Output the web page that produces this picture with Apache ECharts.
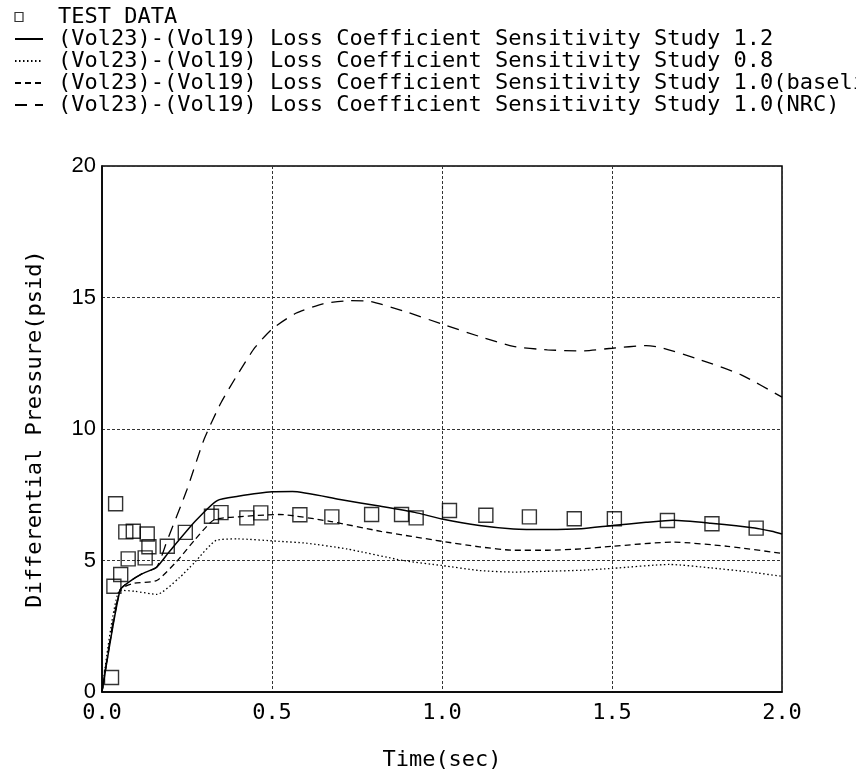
<!DOCTYPE html>
<html>
<head>
<meta charset="utf-8">
<script src="https://cdn.jsdelivr.net/npm/echarts@6/dist/echarts.min.js"></script>
<style>
  html, body { margin: 0; padding: 0; background: #fff; }
  #chart { width: 856px; height: 776px; }
</style>
</head>
<body>
<div id="chart"></div>
<script>
// Series names
const nameTest = 'TEST DATA';
const name12 = '(Vol23)-(Vol19) Loss Coefficient Sensitivity Study 1.2';
const name08 = '(Vol23)-(Vol19) Loss Coefficient Sensitivity Study 0.8';
const nameBase = '(Vol23)-(Vol19) Loss Coefficient Sensitivity Study 1.0(baseline)';
const nameNrc = '(Vol23)-(Vol19) Loss Coefficient Sensitivity Study 1.0(NRC)';

// Measured differential pressure, [time (sec), dp (psid)]
const testPoints = [
  [0.028, 0.55], [0.035, 4.02], [0.040, 7.16], [0.055, 4.47], [0.070, 6.09],
  [0.077, 5.06], [0.092, 6.11], [0.127, 5.10], [0.133, 6.01], [0.138, 5.52],
  [0.192, 5.54], [0.245, 6.07], [0.322, 6.68], [0.350, 6.82], [0.426, 6.62],
  [0.467, 6.81], [0.582, 6.74], [0.676, 6.66], [0.793, 6.75], [0.881, 6.75],
  [0.924, 6.62], [1.022, 6.90], [1.129, 6.72], [1.257, 6.66], [1.389, 6.59],
  [1.507, 6.59], [1.663, 6.52], [1.794, 6.40], [1.924, 6.23]
];

// Loss coefficient x1.2
const study12 = [
  [0, 0], [0.053, 3.87], [0.082, 4.21], [0.117, 4.49], [0.161, 4.75],
  [0.195, 5.29], [0.274, 6.49], [0.339, 7.28], [0.40, 7.44], [0.50, 7.61],
  [0.56, 7.62], [0.70, 7.32], [0.82, 7.06], [0.92, 6.83], [1.00, 6.58],
  [1.11, 6.33], [1.21, 6.20], [1.31, 6.18], [1.41, 6.21], [1.50, 6.33],
  [1.60, 6.45], [1.68, 6.53], [1.79, 6.42], [1.92, 6.24], [1.97, 6.11],
  [2.00, 6.01]
];

// Loss coefficient x0.8
const study08 = [
  [0, 0], [0.053, 3.87], [0.097, 3.83], [0.161, 3.71], [0.227, 4.34],
  [0.271, 4.91], [0.337, 5.77], [0.40, 5.82], [0.52, 5.73], [0.60, 5.66],
  [0.72, 5.44], [0.886, 5.00], [1.00, 4.81], [1.11, 4.62], [1.21, 4.56],
  [1.31, 4.59], [1.41, 4.63], [1.50, 4.70], [1.67, 4.85], [1.79, 4.72],
  [1.90, 4.57], [2.00, 4.40]
];

// Loss coefficient x1.0 (baseline)
const studyBase = [
  [0, 0], [0.053, 3.87], [0.092, 4.13], [0.161, 4.24], [0.22, 4.97],
  [0.274, 5.80], [0.33, 6.55], [0.40, 6.66], [0.52, 6.75], [0.67, 6.49],
  [0.82, 6.11], [1.00, 5.73], [1.11, 5.52], [1.21, 5.39], [1.31, 5.39],
  [1.41, 5.44], [1.50, 5.54], [1.68, 5.70], [1.84, 5.54], [2.00, 5.27]
];

// Loss coefficient x1.0 (NRC)
const studyNrc = [
  [0, 0], [0.053, 3.87], [0.117, 4.49], [0.161, 4.75], [0.19, 5.70],
  [0.25, 7.70], [0.30, 9.60], [0.35, 11.0], [0.40, 12.1], [0.45, 13.1],
  [0.50, 13.8], [0.57, 14.4], [0.65, 14.76], [0.73, 14.88], [0.79, 14.85],
  [0.90, 14.43], [1.00, 13.99], [1.11, 13.52], [1.21, 13.14], [1.31, 13.01],
  [1.41, 12.97], [1.50, 13.07], [1.60, 13.17], [1.64, 13.11], [1.76, 12.63],
  [1.88, 12.06], [2.00, 11.21]
];

const mono = 'DejaVu Sans Mono';
const ink = '#000';

function lineSeries(name, data, type, width) {
  return {
    name: name,
    type: 'line',
    data: data,
    symbol: 'none',
    smooth: 0.2,
    itemStyle: { color: ink },
    lineStyle: { color: ink, width: width, type: type },
    z: 3
  };
}

// legend entries for the curves: line sample only, no marker dot
function lineLegend(name) {
  return {
    name: name,
    itemStyle: { color: 'transparent', borderColor: 'transparent', borderWidth: 0, opacity: 0 }
  };
}

const chart = echarts.init(document.getElementById('chart'), null, { renderer: 'canvas' });

chart.setOption({
  animation: false,
  backgroundColor: '#fff',
  legend: {
    orient: 'vertical',
    left: 9,
    top: 1,
    itemWidth: 28,
    itemHeight: 9,
    itemGap: 0,
    selectedMode: false,
    textStyle: {
      fontFamily: mono,
      fontSize: 22,
      lineHeight: 22,
      color: ink,
      padding: [0, 0, 0, 10]
    },
    data: [
      {
        name: nameTest,
        icon: 'path://M0,0L8,0L8,9L0,9Z M28,4.5',
        itemStyle: { color: 'transparent', borderColor: ink, borderWidth: 1.2 }
      },
      lineLegend(name12),
      lineLegend(name08),
      lineLegend(nameBase),
      lineLegend(nameNrc)
    ]
  },
  grid: {
    left: 102,
    right: 74,
    top: 166,
    bottom: 83,
    show: true,
    borderColor: ink,
    borderWidth: 1.5,
    backgroundColor: 'transparent'
  },
  xAxis: {
    type: 'value',
    min: 0,
    max: 2,
    interval: 0.5,
    name: 'Time(sec)',
    nameLocation: 'middle',
    nameGap: 57,
    nameTextStyle: { fontFamily: mono, fontSize: 22, color: ink },
    axisLine: { show: true, lineStyle: { color: ink, width: 1.5 } },
    axisTick: { show: false },
    axisLabel: {
      fontFamily: mono,
      fontSize: 22,
      color: ink,
      margin: 10,
      formatter: function (v) { return v.toFixed(1); }
    },
    splitLine: {
      show: true,
      lineStyle: { color: '#333', width: 1, type: [3, 2] }
    }
  },
  yAxis: {
    type: 'value',
    min: 0,
    max: 20,
    interval: 5,
    name: 'Differential Pressure(psid)',
    nameLocation: 'middle',
    nameGap: 56,
    nameTextStyle: { fontFamily: mono, fontSize: 22, color: ink },
    axisLine: { show: true, lineStyle: { color: ink, width: 1.5 } },
    axisTick: { show: false },
    axisLabel: {
      fontFamily: 'Liberation Sans',
      fontSize: 22,
      color: ink,
      margin: 6
    },
    splitLine: {
      show: true,
      lineStyle: { color: '#333', width: 1, type: [3, 2] }
    }
  },
  series: [
    {
      name: nameTest,
      type: 'scatter',
      data: testPoints,
      symbol: 'rect',
      symbolSize: 14,
      itemStyle: { color: 'transparent', borderColor: ink, borderWidth: 1.4 },
      z: 4
    },
    lineSeries(name12, study12, 'solid', 1.5),
    lineSeries(name08, study08, [1.5, 2.5], 1.3),
    lineSeries(nameBase, studyBase, [6, 4], 1.3),
    lineSeries(nameNrc, studyNrc, [12, 8], 1.3)
  ]
});
</script>
</body>
</html>
